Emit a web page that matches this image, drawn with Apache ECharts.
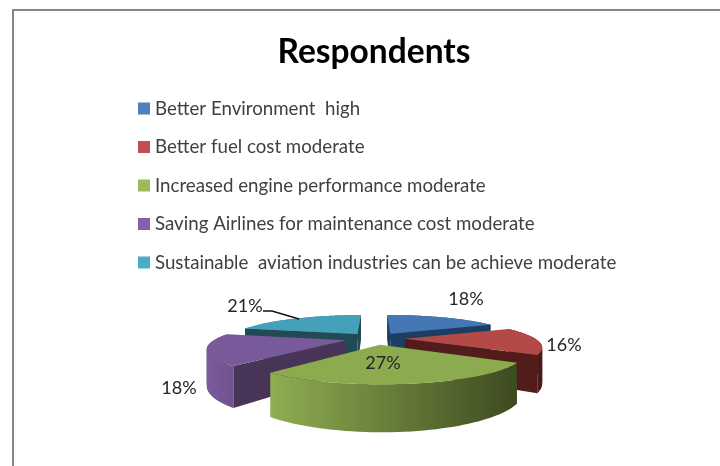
<!DOCTYPE html>
<html>
<head>
<meta charset="utf-8">
<style>
  html, body { margin: 0; background: #fff; }
  #chart { width: 720px; height: 466px; }
</style>
</head>
<body>
<div id="chart"></div>
<script src="https://cdn.jsdelivr.net/npm/echarts@6/dist/echarts.min.js"></script>
<script>
const categories = [
  'Better Environment  high',
  'Better fuel cost moderate',
  'Increased engine performance moderate',
  'Saving Airlines for maintenance cost moderate',
  'Sustainable  aviation industries can be achieve moderate'
]
const shares = [18, 16, 27, 18, 21]

// styling per slice
const topColors = ['#4477b4', '#b44a48', '#8cab4f', '#78599a', '#45a0ba']
const legendColors = ['#4f81bd', '#c0504d', '#9bbb59', '#8064a2', '#4bacc6']
const cutColors = ['#1d3d63', '#511c1a', '#47621f', '#483456', '#214a55']
const wallStops = [
  ['#2a5080', '#1d3d63'],
  ['#5c2220', '#4a1a18'],
  ['#8fae52', '#3d4a20'],
  ['#7c5c9a', '#6f5190'],
  ['#4aa8c2', '#2a6a7c']
]
const labelPos = [[466, 299], [564, 345], [383, 363], [179, 388], [245, 306]]
const drawOrder = [4, 0, 3, 1, 2] // back to front

// projection of the tilted pie, fitted against the picture
const CX = 375
const CY = 338.5
const SCALE_X = 130
const SCALE_Y = 25.7
const PERSP = 0.254
const DEPTH = 33
const EXPLODE = 0.23

const total = shares.reduce((a, b) => a + b, 0)

function project (u, v, down) {
  const s = 1 / (1 - PERSP * v)
  return [CX + SCALE_X * u * s, CY + SCALE_Y * v * s + (down ? DEPTH * s : 0)]
}

function area (pts) {
  let sum = 0
  pts.forEach((p, i) => {
    const q = pts[(i + 1) % pts.length]
    sum += p[0] * q[1] - q[0] * p[1]
  })
  return sum / 2
}

function renderSlice (index, api) {
  const value = api.value(0)
  const before = shares.slice(0, index).reduce((a, b) => a + b, 0)
  const a0 = before / total * Math.PI * 2
  const a1 = a0 + value / total * Math.PI * 2
  const mid = (a0 + a1) / 2
  const ox = Math.sin(mid) * EXPLODE
  const oy = -Math.cos(mid) * EXPLODE

  const arcTop = []
  const arcBottom = []
  const steps = 48
  for (let i = 0; i <= steps; i++) {
    const a = a0 + (a1 - a0) * i / steps
    const u = ox + Math.sin(a)
    const v = oy - Math.cos(a)
    arcTop.push(project(u, v, false))
    arcBottom.push(project(u, v, true))
  }
  const apexTop = project(ox, oy, false)
  const apexBottom = project(ox, oy, true)

  const children = []
  const xs = arcTop.map(p => p[0])
  const wallFill = new echarts.graphic.LinearGradient(
    Math.min.apply(null, xs), 0, Math.max.apply(null, xs), 0,
    [{ offset: 0, color: wallStops[index][0] }, { offset: 1, color: wallStops[index][1] }],
    true
  )
  // split the wall where the arc turns back in x, one ribbon would cancel itself there
  let from = 0
  for (let i = 1; i <= steps; i++) {
    const turns = i < steps && (xs[i] - xs[i - 1]) * (xs[i + 1] - xs[i]) < 0
    if (turns || i === steps) {
      children.push({
        type: 'polygon',
        shape: { points: arcTop.slice(from, i + 1).concat(arcBottom.slice(from, i + 1).reverse()) },
        style: { fill: wallFill }
      })
      from = i
    }
  }

  const cutA = [apexTop, arcTop[0], arcBottom[0], apexBottom]
  const cutB = [arcTop[steps], apexTop, apexBottom, arcBottom[steps]]
  ;[cutA, cutB].forEach(face => {
    if (area(face) < 0) {
      children.push({ type: 'polygon', shape: { points: face }, style: { fill: cutColors[index] } })
    }
  })

  children.push({
    type: 'polygon',
    shape: { points: [apexTop].concat(arcTop) },
    style: { fill: topColors[index] }
  })

  children.push({
    type: 'text',
    x: labelPos[index][0],
    y: labelPos[index][1],
    z2: 10,
    style: {
      text: value + '%',
      font: '18px Lato',
      fill: '#262626',
      align: 'center',
      verticalAlign: 'middle'
    }
  })
  return { type: 'group', children: children }
}

const series = drawOrder.map(i => ({
  type: 'custom',
  name: categories[i],
  coordinateSystem: 'none',
  silent: true,
  clip: false,
  itemStyle: { color: legendColors[i] },
  data: [[shares[i]]],
  renderItem: (params, api) => renderSlice(i, api)
}))

const chart = echarts.init(document.getElementById('chart'), null, { renderer: 'canvas' })
chart.setOption({
  animation: false,
  backgroundColor: '#ffffff',
  title: {
    text: 'Respondents',
    left: 369,
    top: 30,
    textAlign: 'center',
    textStyle: { fontFamily: 'Lato', fontSize: 33.5, fontWeight: 'bold', color: '#000000' }
  },
  legend: {
    data: categories,
    orient: 'vertical',
    left: 133,
    top: 94,
    itemWidth: 12,
    itemHeight: 12,
    itemGap: 19.5,
    icon: 'rect',
    selectedMode: false,
    textStyle: { fontFamily: 'Lato', fontSize: 18.7, color: '#404040', padding: [0, 0, 0, 0] }
  },
  graphic: [
    {
      type: 'polyline',
      silent: true,
      shape: { points: [[13, 466], [13, 10], [720, 10]] },
      style: { stroke: '#868686', lineWidth: 2, fill: null }
    },
    {
      type: 'polyline',
      silent: true,
      z: 20,
      shape: { points: [[263, 311], [272, 311], [299, 319]] },
      style: { stroke: '#111111', lineWidth: 1.5, fill: null }
    }
  ],
  series: series
})
</script>
</body>
</html>
